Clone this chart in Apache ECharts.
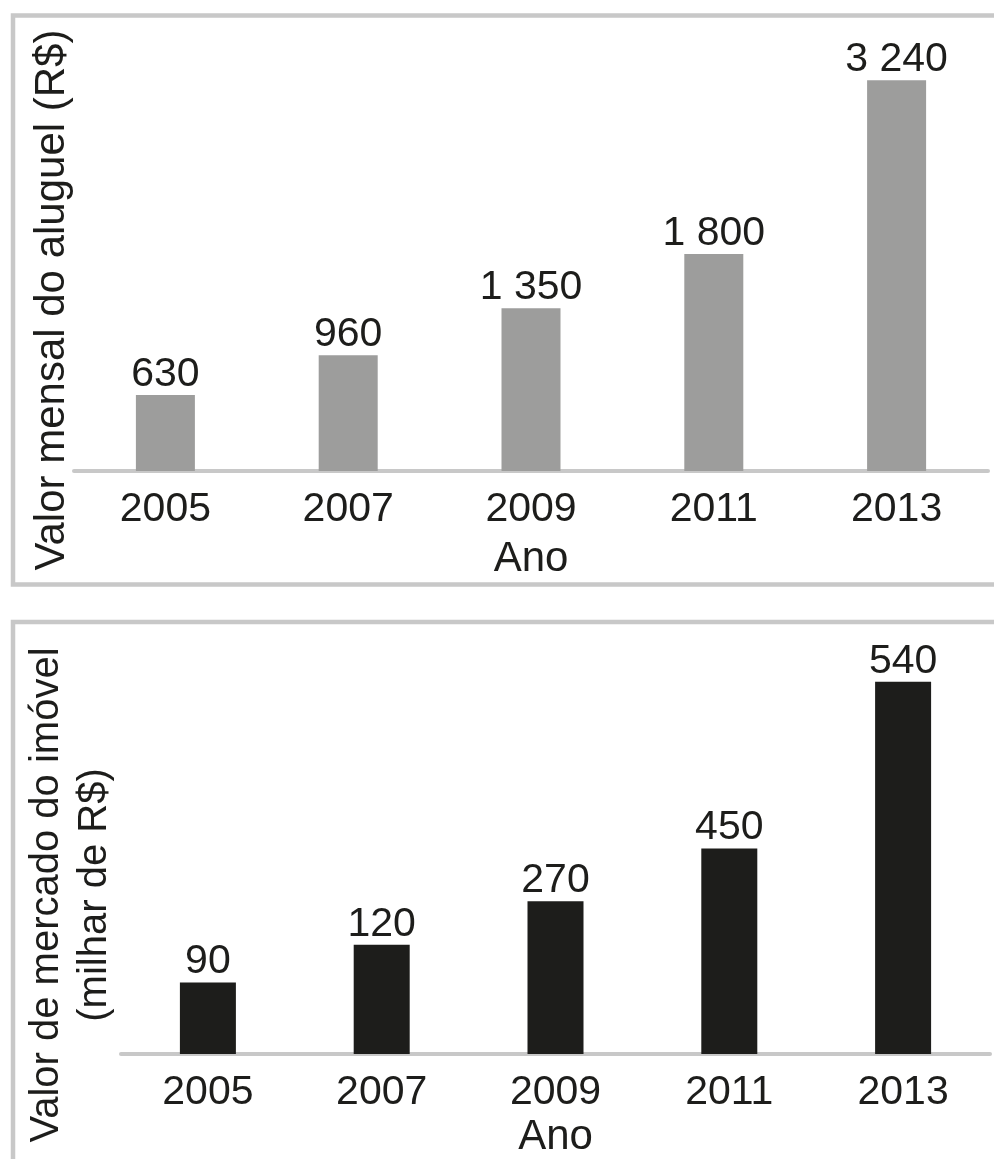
<!DOCTYPE html>
<html>
<head>
<meta charset="utf-8">
<script src="https://cdn.jsdelivr.net/npm/echarts@6/dist/echarts.min.js"></script>
<style>
  html, body { margin: 0; padding: 0; background: #fff; }
  #chart { width: 994px; height: 1159px; }
</style>
</head>
<body>
<div id="chart"></div>
<script>
// dados
const anos = ['2005', '2007', '2009', '2011', '2013']
const aluguel = [630, 960, 1350, 1800, 3240]
const valorMercado = [90, 120, 270, 450, 540]
// o segundo gráfico original não está em escala: altura das barras como desenhadas
const alturaBarrasMercado = [72, 110, 154, 207, 375]

const FONT = '"Liberation Sans", Arial, Helvetica, sans-serif'
const TEXT = '#1d1d1b'
const LINE = '#c8c8c8'

function milhar(v) {
  return String(v).replace(/\B(?=(\d{3})+(?!\d))/g, ' ')
}

const chart = echarts.init(document.getElementById('chart'))

function eixoX(gridIndex, gap) {
  return {
    type: 'category',
    gridIndex: gridIndex,
    data: anos,
    offset: 2,
    name: 'Ano',
    nameLocation: 'middle',
    nameGap: gap,
    nameTextStyle: { fontFamily: FONT, fontSize: 42, color: TEXT },
    axisLine: { lineStyle: { color: LINE, width: 4 } },
    axisTick: { show: false },
    axisLabel: { margin: 16, fontFamily: FONT, fontSize: 41, color: TEXT }
  }
}

chart.setOption({
  animation: false,
  backgroundColor: '#fff',
  grid: [
    { left: 74, right: 6, top: 49, bottom: 688 },
    { left: 121, right: 4, top: 657, bottom: 102 }
  ],
  xAxis: [eixoX(0, 65), eixoX(1, 60)],
  yAxis: [
    { type: 'value', gridIndex: 0, min: 0, max: 3500, show: false },
    { type: 'value', gridIndex: 1, min: 0, max: 400, show: false }
  ],
  series: [
    {
      type: 'bar',
      xAxisIndex: 0,
      yAxisIndex: 0,
      barWidth: 59,
      itemStyle: { color: '#9d9d9c' },
      label: {
        show: true,
        position: 'top',
        distance: 0,
        fontFamily: FONT,
        fontSize: 41,
        color: TEXT,
        formatter: p => milhar(p.value)
      },
      data: aluguel
    },
    {
      type: 'bar',
      xAxisIndex: 1,
      yAxisIndex: 1,
      barWidth: 56,
      itemStyle: { color: '#1d1d1b' },
      label: {
        show: true,
        position: 'top',
        distance: 0,
        fontFamily: FONT,
        fontSize: 41,
        color: TEXT,
        formatter: p => milhar(valorMercado[p.dataIndex])
      },
      data: alturaBarrasMercado
    }
  ],
  graphic: [
    {
      type: 'rect',
      shape: { x: 13, y: 15.5, width: 1000, height: 569 },
      style: { fill: 'none', stroke: LINE, lineWidth: 4.5 },
      silent: true
    },
    {
      type: 'rect',
      shape: { x: 13, y: 622, width: 1000, height: 600 },
      style: { fill: 'none', stroke: LINE, lineWidth: 4.5 },
      silent: true
    },
    {
      type: 'text',
      x: 52.5,
      y: 300,
      rotation: Math.PI / 2,
      style: {
        text: 'Valor mensal do aluguel (R$)',
        font: '42px ' + FONT,
        fill: TEXT,
        align: 'center',
        verticalAlign: 'middle'
      }
    },
    {
      type: 'text',
      x: 71,
      y: 895,
      rotation: Math.PI / 2,
      style: {
        text: 'Valor de mercado do imóvel\n(milhar de R$)',
        font: '40px ' + FONT,
        lineHeight: 48,
        fill: TEXT,
        align: 'center',
        verticalAlign: 'middle'
      }
    }
  ]
})
</script>
</body>
</html>
